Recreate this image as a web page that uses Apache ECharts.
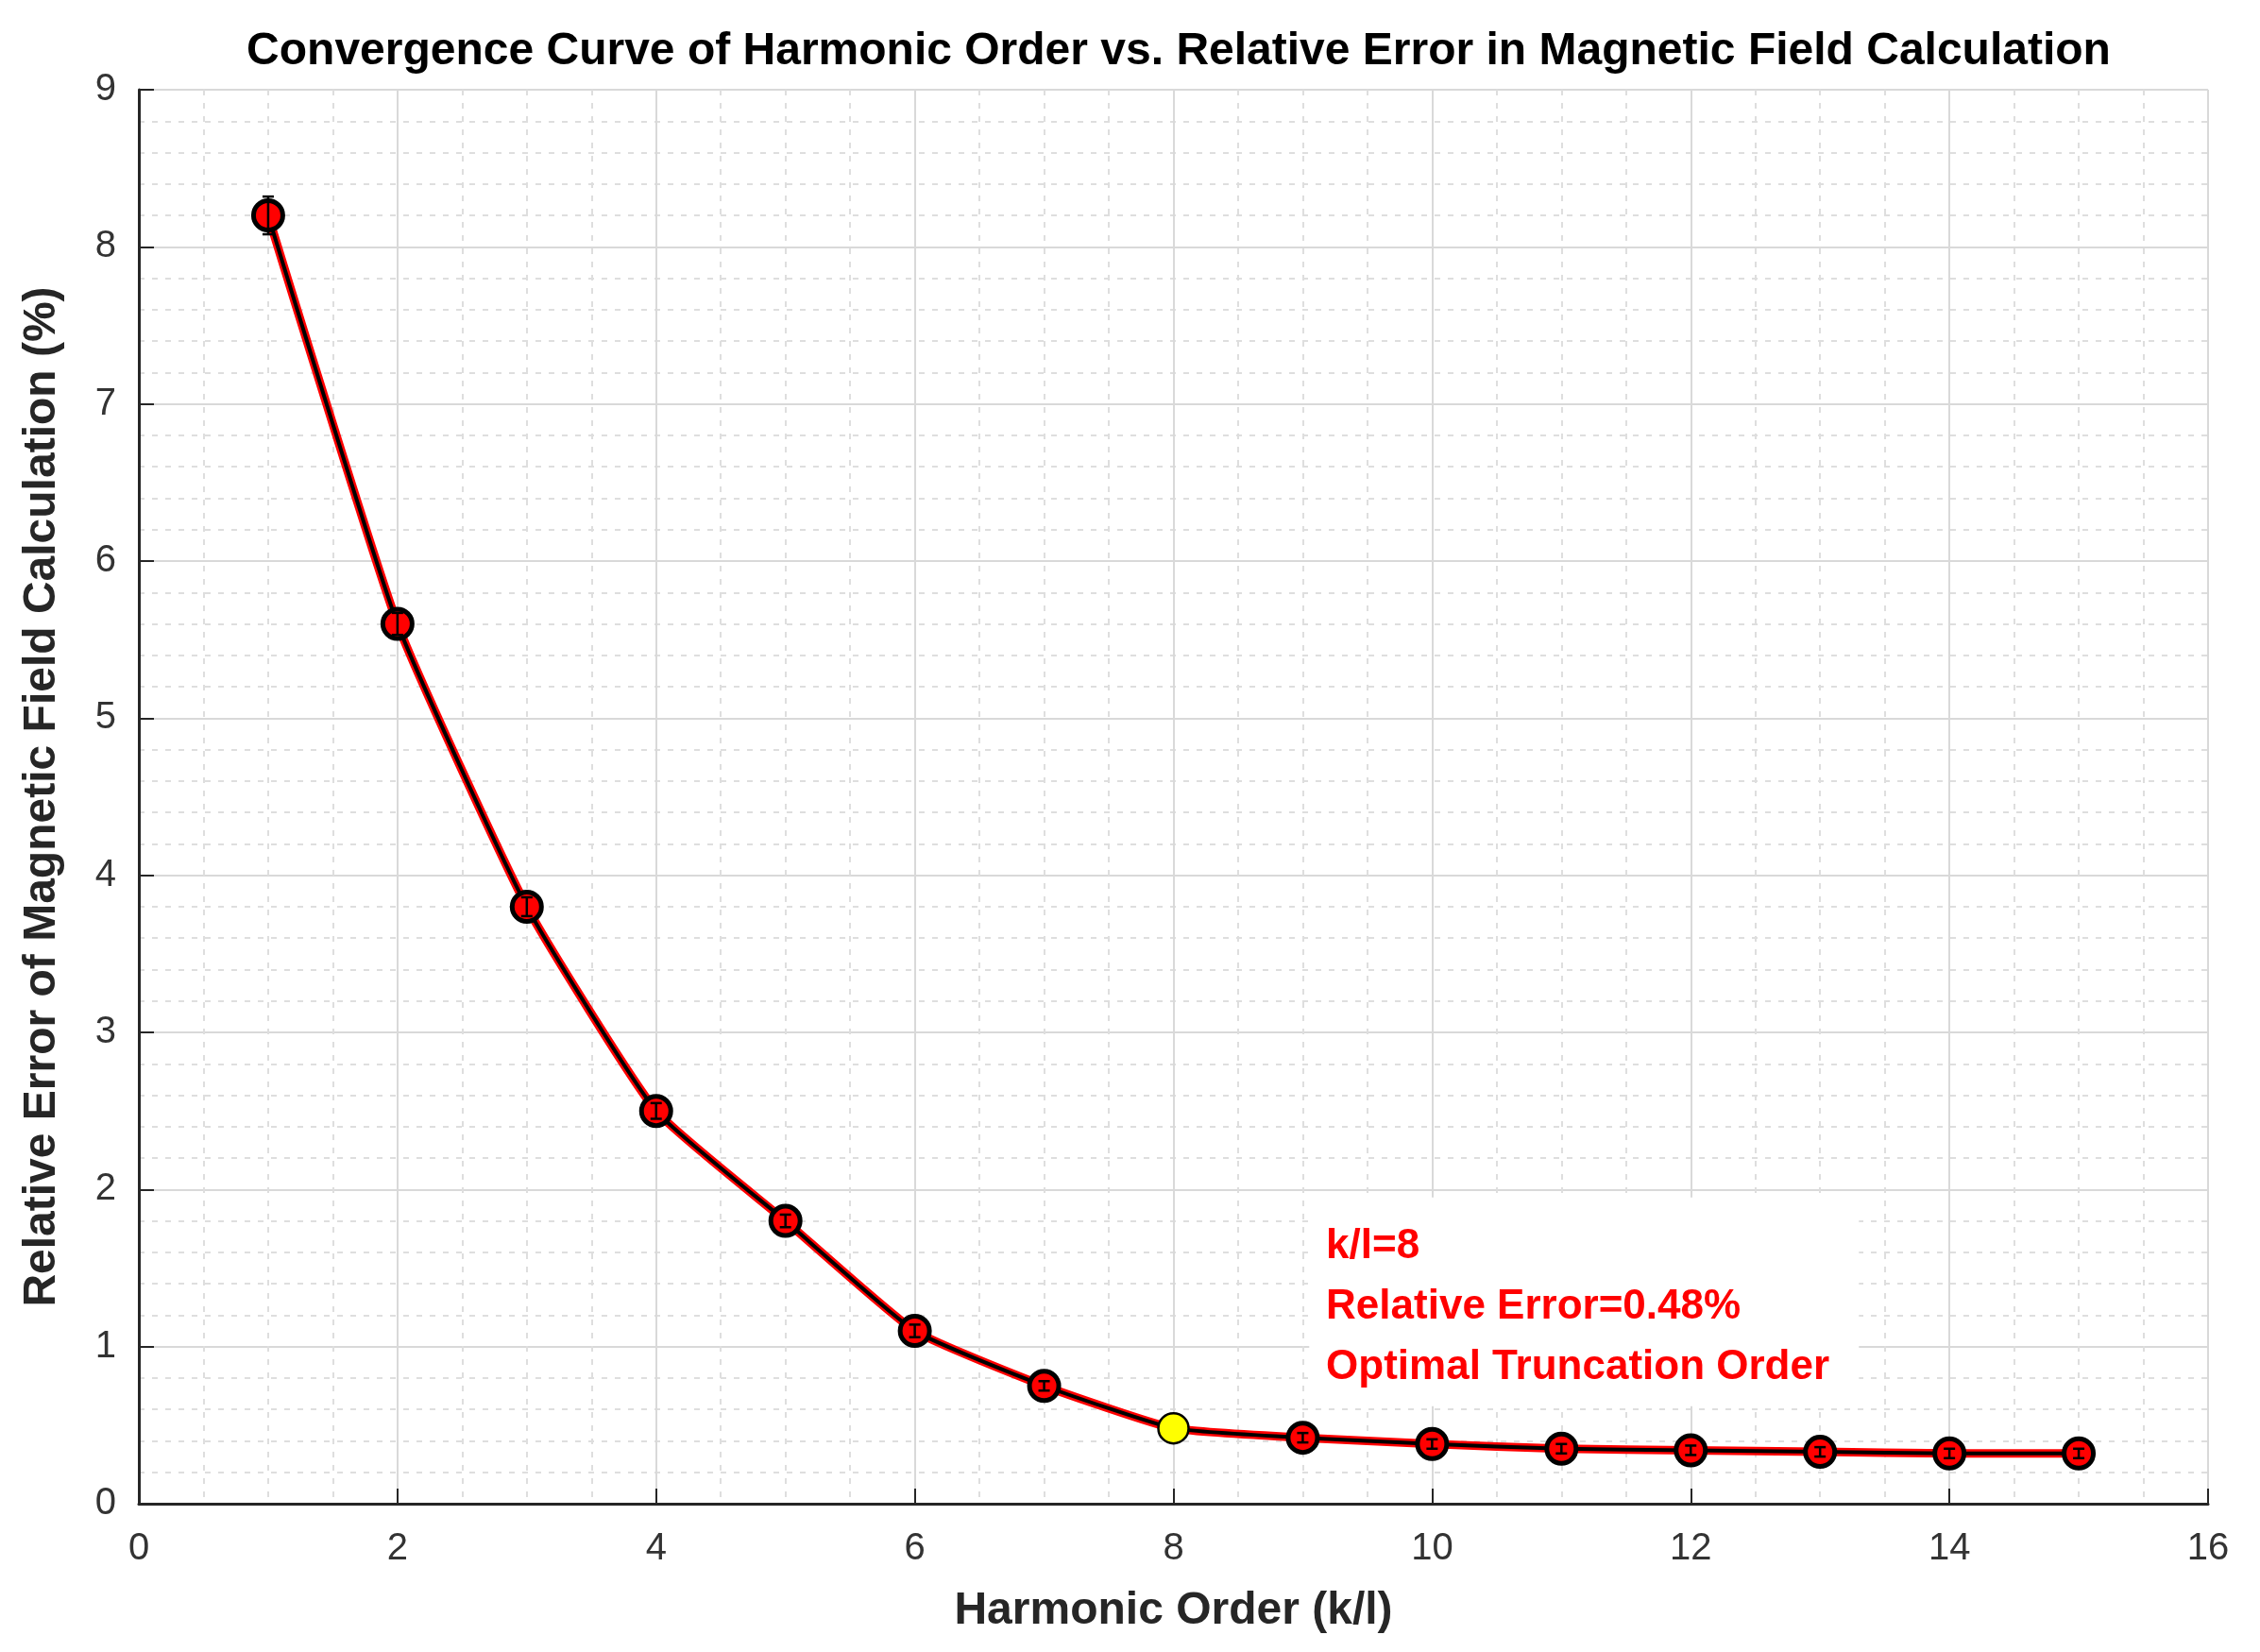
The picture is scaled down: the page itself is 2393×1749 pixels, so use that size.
<!DOCTYPE html>
<html>
<head>
<meta charset="utf-8">
<script src="https://cdn.jsdelivr.net/npm/echarts@6/dist/echarts.min.js"></script>
<style>
  html, body { margin: 0; padding: 0; background: #fff; }
  #chart { width: 2393px; height: 1749px; }
</style>
</head>
<body>
<div id="chart"></div>
<script>
// harmonic order k/l and relative error (%)
var orders = [1, 2, 3, 4, 5, 6, 7, 8, 9, 10, 11, 12, 13, 14, 15];
var relError = [8.2, 5.6, 3.8, 2.5, 1.8, 1.1, 0.75, 0.48, 0.42, 0.38, 0.35, 0.34, 0.33, 0.32, 0.32];
var errBar = [0.12, 0.07, 0.06, 0.05, 0.04, 0.04, 0.03, 0.03, 0.03, 0.03, 0.03, 0.03, 0.03, 0.03, 0.03];
var optimalOrder = 8;
var noteLines = ['k/l=8', 'Relative Error=0.48%', 'Optimal Truncation Order'];
// annotation box corners in data units
var noteBox = [[9.05, 1.95], [13.3, 0.62]];

var axisColor = '#262626';
var fontFam = 'Arial, "Liberation Sans", Helvetica, sans-serif';
var gridL = 147, gridR = 55;

var points = [], special = [];
for (var i = 0; i < orders.length; i++) {
    if (orders[i] === optimalOrder) special.push([orders[i], relError[i]]);
    else points.push([orders[i], relError[i]]);
}
var lineData = orders.map(function (x, i) { return [x, relError[i]]; });
var errData = orders.map(function (x, i) { return [x, relError[i], errBar[i]]; });

var dom = document.getElementById('chart');
var chart = echarts.init(dom);

var option = {
    backgroundColor: '#fff',
    animation: false,
    title: {
        text: 'Convergence Curve of Harmonic Order vs. Relative Error in Magnetic Field Calculation',
        // centred over the plot area, like the original
        left: Math.round((gridL + dom.clientWidth - gridR) / 2),
        textAlign: 'center',
        top: 26,
        textStyle: { fontFamily: fontFam, fontSize: 48, fontWeight: 'bold', color: '#000' }
    },
    grid: { left: gridL, right: gridR, top: 95, bottom: 157 },
    xAxis: {
        type: 'value', min: 0, max: 16, interval: 2,
        name: 'Harmonic Order (k/l)',
        nameLocation: 'middle', nameGap: 90,
        nameTextStyle: { fontFamily: fontFam, fontSize: 48, fontWeight: 'bold', color: axisColor },
        axisLine: { show: true, onZero: false, lineStyle: { color: axisColor, width: 3 } },
        axisTick: { show: true, inside: true, length: 16, lineStyle: { color: axisColor, width: 2 } },
        axisLabel: { fontFamily: fontFam, fontSize: 40, color: '#333', margin: 28 },
        splitLine: { show: true, lineStyle: { color: '#d9d9d9', width: 2 } },
        minorTick: { show: false, splitNumber: 4 },
        minorSplitLine: { show: true, lineStyle: { color: '#dedede', width: 2, type: [6, 8] } }
    },
    yAxis: {
        type: 'value', min: 0, max: 9, interval: 1,
        name: 'Relative Error of Magnetic Field Calculation (%)',
        nameLocation: 'middle', nameGap: 78,
        nameTextStyle: { fontFamily: fontFam, fontSize: 48, fontWeight: 'bold', color: axisColor },
        axisLine: { show: true, onZero: false, lineStyle: { color: axisColor, width: 3 } },
        axisTick: { show: true, inside: true, length: 16, lineStyle: { color: axisColor, width: 2 } },
        axisLabel: { fontFamily: fontFam, fontSize: 40, color: '#333', margin: 24 },
        splitLine: { show: true, lineStyle: { color: '#d9d9d9', width: 2 } },
        minorTick: { show: false, splitNumber: 5 },
        minorSplitLine: { show: true, lineStyle: { color: '#dedede', width: 2, type: [6, 8] } }
    },
    series: [
        {
            type: 'custom', name: 'noteBox', z: 1, silent: true,
            data: [[noteBox[0][0], noteBox[0][1], noteBox[1][0], noteBox[1][1]]],
            renderItem: function (params, api) {
                var p0 = api.coord([api.value(0), api.value(1)]);
                var p1 = api.coord([api.value(2), api.value(3)]);
                return {
                    type: 'rect',
                    shape: { x: p0[0], y: p0[1], width: p1[0] - p0[0], height: p1[1] - p0[1] },
                    style: { fill: '#fff' }
                };
            }
        },
        {
            type: 'line', data: lineData, symbol: 'none', smooth: 0.15, z: 3,
            lineStyle: { color: '#ff0000', width: 9 }
        },
        {
            type: 'line', data: lineData, symbol: 'none', smooth: 0.15, z: 4,
            lineStyle: { color: '#000', width: 4 }
        },
        {
            type: 'scatter', data: points, symbol: 'circle', symbolSize: 31, z: 5,
            itemStyle: { color: '#ff0000', borderColor: '#000', borderWidth: 5, opacity: 1 }
        },
        {
            type: 'scatter', data: special, symbol: 'circle', symbolSize: 32, z: 6,
            itemStyle: { color: '#ffff00', borderColor: '#000', borderWidth: 2.5, opacity: 1 }
        },
        {
            type: 'custom', name: 'errorbars', z: 7, silent: true,
            data: errData,
            renderItem: function (params, api) {
                var x = api.value(0), y = api.value(1), e = api.value(2);
                if (x === optimalOrder) return null;
                var hi = api.coord([x, y + e]);
                var lo = api.coord([x, y - e]);
                var cw = 6;
                var st = { stroke: '#000', lineWidth: 2.5 };
                return {
                    type: 'group',
                    children: [
                        { type: 'line', shape: { x1: hi[0], y1: hi[1], x2: lo[0], y2: lo[1] }, style: st },
                        { type: 'line', shape: { x1: hi[0] - cw, y1: hi[1], x2: hi[0] + cw, y2: hi[1] }, style: st },
                        { type: 'line', shape: { x1: lo[0] - cw, y1: lo[1], x2: lo[0] + cw, y2: lo[1] }, style: st }
                    ]
                };
            }
        }
    ]
};
chart.setOption(option);

// annotation text anchored in data coordinates
var anchor = chart.convertToPixel({ gridIndex: 0 }, [noteBox[0][0] + 0.13, noteBox[0][1]]);
var lineGap = 64;
chart.setOption({
    graphic: noteLines.map(function (t, i) {
        return {
            type: 'text', z: 20,
            x: anchor[0], y: anchor[1] + 52 + i * lineGap,
            style: {
                text: t, fill: '#ff0000', fontFamily: fontFam, fontSize: 44, fontWeight: 'bold',
                verticalAlign: 'middle', align: 'left'
            }
        };
    })
});
</script>
</body>
</html>
